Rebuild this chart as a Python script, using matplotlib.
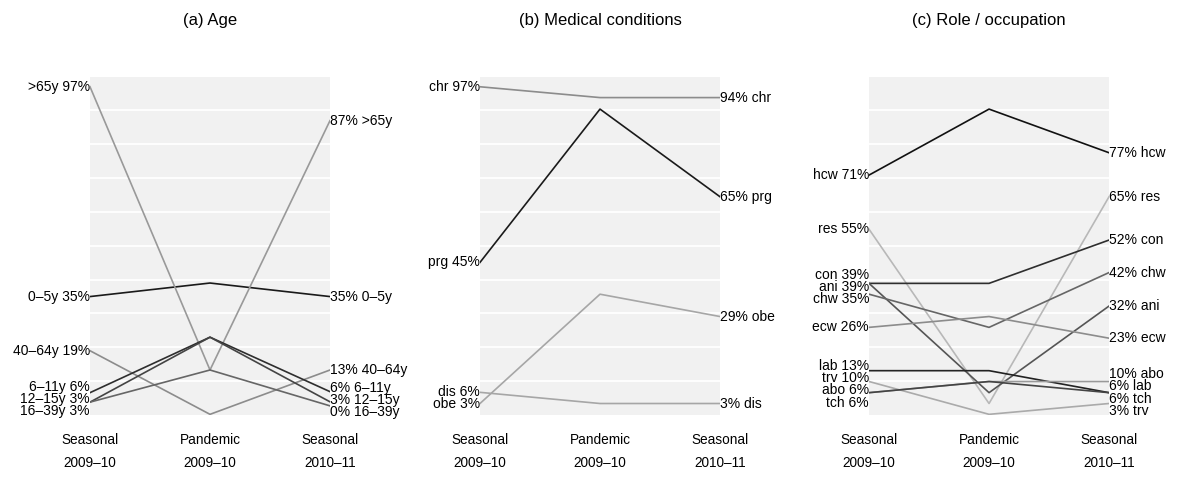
import matplotlib
matplotlib.use("Agg")
import matplotlib.pyplot as plt

plt.rcParams['font.family'] = ['Liberation Sans', 'DejaVu Sans']

periods = ["Seasonal\n2009\u201310", "Pandemic\n2009\u201310", "Seasonal\n2010\u201311"]

# (a) Age -- values as drawn (percent), labels as printed
age_names = ["0\u20135y", ">65y", "40\u201364y", "6\u201311y", "12\u201315y", "16\u201339y"]
age_vals = [[35, 39, 35],
            [97, 13.3, 87],
            [19, 0.2, 13.3],
            [6.6, 23, 6.9],
            [3.8, 23, 3.9],
            [3.8, 13.3, 2.7]]
age_left = ["35%", "97%", "19%", "6%", "3%", "3%"]
age_right = ["35%", "87%", "13%", "6%", "3%", "0%"]
age_colors = ["#1a1a1a", "#999999", "#8c8c8c", "#2e2e2e", "#444444", "#666666"]

# (b) Medical conditions
med_names = ["chr", "prg", "obe", "dis"]
med_vals = [[97, 93.8, 93.8],
            [45.1, 90.4, 64.5],
            [3.4, 35.7, 29.1],
            [6.7, 3.4, 3.4]]
med_left = ["97%", "45%", "3%", "6%"]
med_right = ["94%", "65%", "29%", "3%"]
med_colors = ["#8c8c8c", "#1a1a1a", "#a6a6a6", "#a6a6a6"]

# (c) Role / occupation
occ_names = ["hcw", "res", "con", "ani", "chw", "ecw", "lab", "trv", "abo", "tch"]
occ_vals = [[70.9, 90.4, 77.5],
            [54.9, 3.4, 64.5],
            [38.9, 38.9, 51.7],
            [38.9, 6.6, 32.2],
            [35.7, 25.9, 42.1],
            [25.9, 29.1, 22.7],
            [13.1, 13.1, 6.6],
            [9.9, 0.2, 3.4],
            [6.6, 9.9, 9.9],
            [6.6, 9.9, 6.6]]
occ_left = ["71%", "55%", "39%", "39%", "35%", "26%", "13%", "10%", "6%", "6%"]
occ_right = ["77%", "65%", "52%", "32%", "42%", "23%", "6%", "3%", "10%", "6%"]
occ_colors = ["#111111", "#b8b8b8", "#2e2e2e", "#555555", "#666666",
              "#8c8c8c", "#222222", "#aaaaaa", "#999999", "#444444"]


def dodge(values, gap):
    # spread label positions so they are at least `gap` apart (pooled clusters)
    order = sorted(range(len(values)), key=lambda i: -values[i])
    shifted = [values[i] + k * gap for k, i in enumerate(order)]
    blocks = []
    for s in shifted:
        blocks.append([s, 1])
        while len(blocks) > 1 and blocks[-2][0] / blocks[-2][1] < blocks[-1][0] / blocks[-1][1]:
            tot, n = blocks.pop()
            blocks[-1][0] += tot
            blocks[-1][1] += n
    out = [0.0] * len(values)
    k = 0
    for tot, n in blocks:
        for _ in range(n):
            out[order[k]] = tot / n - k * gap
            k += 1
    return out


def slope_panel(ax, title, names, vals, left, right, colors):
    ax.set_facecolor("#f1f1f1")
    for yy in range(10, 100, 10):
        ax.axhline(yy, color="white", lw=1.3, zorder=1)
    for v, c in zip(vals, colors):
        ax.plot([0, 1, 2], v, color=c, lw=1.2, zorder=2)
    ly = dodge([v[0] for v in vals], 3.6)
    ry = dodge([v[2] for v in vals], 3.6)
    for i, n in enumerate(names):
        ax.text(0, ly[i], f"{n} {left[i]}", ha="right", va="center", fontsize=10)
        ax.text(2, ry[i], f"{right[i]} {n}", ha="left", va="center", fontsize=10)
    ax.set_xlim(0, 2)
    ax.set_ylim(0, 100)
    ax.set_xticks([0, 1, 2])
    ax.set_xticklabels(periods, fontsize=9.8, linespacing=1.8)
    ax.set_yticks([])
    ax.tick_params(axis="x", length=0, pad=13)
    for s in ax.spines.values():
        s.set_visible(False)
    ax.set_title(title, fontsize=12, pad=37)


fig = plt.figure(figsize=(12, 4.8), dpi=100)
ax1 = fig.add_axes([0.075, 0.1354, 0.2, 0.705])
ax2 = fig.add_axes([0.4, 0.1354, 0.2, 0.705])
ax3 = fig.add_axes([0.7242, 0.1354, 0.2, 0.705])

slope_panel(ax1, "(a) Age", age_names, age_vals, age_left, age_right, age_colors)
slope_panel(ax2, "(b) Medical conditions", med_names, med_vals, med_left, med_right, med_colors)
slope_panel(ax3, "(c) Role / occupation", occ_names, occ_vals, occ_left, occ_right, occ_colors)

fig.savefig("out.png", dpi=100)
